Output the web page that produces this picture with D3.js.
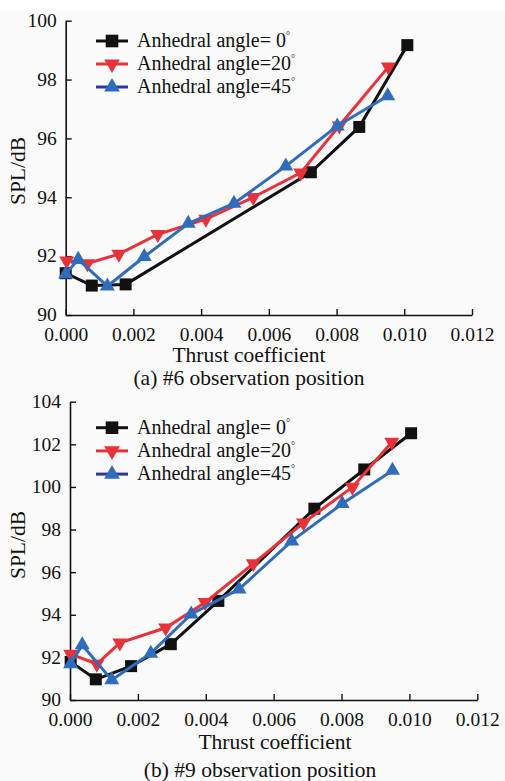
<!DOCTYPE html>
<html><head><meta charset="utf-8">
<script src="https://cdn.jsdelivr.net/npm/d3@7"></script>
<style>body{margin:0;background:#fafafa;}svg{display:block;}</style>
</head><body>
<svg id="c" width="505" height="781"></svg>
<script>
const seriesNames = ["Anhedral angle= 0", "Anhedral angle=20", "Anhedral angle=45"];
const xTicks = [0, 0.002, 0.004, 0.006, 0.008, 0.010, 0.012];
const yTicksA = [90, 92, 94, 96, 98, 100];
const yTicksB = [90, 92, 94, 96, 98, 100, 102, 104];
const titles = ["(a) #6 observation position", "(b) #9 observation position"];

// Panel (a) #6
const a0x = [0, 0.00077, 0.00177, 0.00724, 0.00867, 0.01009];
const a0y = [91.42, 91.0, 91.04, 94.85, 96.39, 99.17];
const a20x = [0.00003, 0.00064, 0.00157, 0.00272, 0.00414, 0.00554, 0.00694, 0.00808, 0.00953];
const a20y = [91.84, 91.75, 92.07, 92.74, 93.26, 94.0, 94.83, 96.43, 98.43];
const a45x = [0, 0.00037, 0.00123, 0.00232, 0.00362, 0.00497, 0.0065, 0.00802, 0.00951];
const a45y = [91.39, 91.89, 90.98, 91.98, 93.11, 93.79, 95.06, 96.42, 97.44];

// Panel (b) #9
const b0x = [0.00002, 0.00076, 0.0018, 0.00297, 0.00437, 0.0072, 0.00867, 0.01005];
const b0y = [91.79, 90.97, 91.59, 92.62, 94.65, 98.98, 100.82, 102.52];
const b20x = [0.00002, 0.00079, 0.00147, 0.00282, 0.00398, 0.0054, 0.00688, 0.00832, 0.00948];
const b20y = [92.15, 91.69, 92.68, 93.39, 94.58, 96.4, 98.32, 99.99, 102.1];
const b45x = [0.00002, 0.00036, 0.00123, 0.00238, 0.00357, 0.00498, 0.00653, 0.00802, 0.0095];
const b45y = [91.69, 92.58, 90.94, 92.19, 94.03, 95.2, 97.46, 99.21, 100.77];

const colors = ["#111111", "#e8323a", "#2f6dbb"];
const legendLineColors = ["#111111", "#e8323a", "#35329a"];
const font = "'Liberation Serif', 'Times New Roman', serif";

// marker shapes: square, down triangle, up triangle
function markerPath(i, s) {
  const p = d3.path();
  if (i === 0) { p.rect(-6 * s, -6 * s, 12 * s, 12 * s); return p.toString(); }
  const w = 7.5 * s, h = 13 * s;
  if (i === 1) { p.moveTo(-w, -h / 3); p.lineTo(w, -h / 3); p.lineTo(0, 2 * h / 3); }
  else { p.moveTo(-w, h / 3); p.lineTo(w, h / 3); p.lineTo(0, -2 * h / 3); }
  p.closePath();
  return p.toString();
}

const svg = d3.select("#c");
svg.append("rect").attr("width", 505).attr("height", 11).attr("fill", "#ffffff");

function zip(xs, ys) { return xs.map((x, i) => ({x, y: ys[i]})); }

function panel(cfg) {
  const g = svg.append("g");
  const x = d3.scaleLinear().domain([0, 0.012]).range([cfg.x0, cfg.x1]);
  const y = d3.scaleLinear().domain([90, cfg.ymax]).range([cfg.yb, cfg.yt]);

  const xa = g.append("g").attr("transform", `translate(0,${cfg.yb})`)
    .call(d3.axisBottom(x).tickValues(xTicks).tickFormat(d3.format(".3f")).tickSizeInner(-6).tickSizeOuter(0).tickPadding(cfg.xpad));
  const ya = g.append("g").attr("transform", `translate(${cfg.x0},0)`)
    .call(d3.axisLeft(y).tickValues(cfg.yTicks).tickFormat(d3.format("d")).tickSizeInner(-6).tickSizeOuter(0).tickPadding(9));
  [xa, ya].forEach(a => {
    a.select(".domain").attr("stroke", "#111").attr("stroke-width", 1.6);
    a.selectAll(".tick line").attr("stroke", "#111").attr("stroke-width", 1.4);
    a.selectAll("text").attr("font-family", font).attr("font-size", 19.5).attr("fill", "#111");
  });
  xa.selectAll("text").attr("dy", "0.71em");
  ya.selectAll("text").attr("dy", "0.3em");

  const line = d3.line().x(d => x(d.x)).y(d => y(d.y));
  cfg.series.forEach((s, i) => {
    g.append("path").datum(s).attr("d", line).attr("fill", "none")
      .attr("stroke", colors[i]).attr("stroke-width", 3).attr("stroke-linejoin", "miter");
    g.selectAll(null).data(s).enter().append("path")
      .attr("d", markerPath(i, 1))
      .attr("transform", d => `translate(${x(d.x)},${y(d.y)})`)
      .attr("fill", colors[i]);
  });

  // legend
  seriesNames.forEach((n, i) => {
    const ly = cfg.ly + i * cfg.lstep;
    g.append("line").attr("x1", cfg.lx).attr("x2", cfg.lx + 32).attr("y1", ly).attr("y2", ly)
      .attr("stroke", legendLineColors[i]).attr("stroke-width", 3);
    g.append("path").attr("d", markerPath(i, 1.05))
      .attr("transform", `translate(${cfg.lx + 16},${ly})`)
      .attr("fill", colors[i]);
    const t = g.append("text").attr("x", cfg.lx + 41).attr("y", ly + 6)
      .attr("font-family", font).attr("font-size", 20).attr("fill", "#111").text(n);
    t.append("tspan").attr("font-size", 10).attr("dy", -8).text("°");
  });

  g.append("text").attr("transform", `translate(${cfg.ylx},${cfg.yly}) rotate(-90)`)
    .attr("text-anchor", "middle").attr("dy", "0.35em").attr("font-family", font).attr("font-size", 21.5)
    .attr("fill", "#111").text("SPL/dB");
  g.append("text").attr("x", cfg.xlx).attr("y", cfg.xly).attr("text-anchor", "middle")
    .attr("font-family", font).attr("font-size", 21.5).attr("fill", "#111").text("Thrust coefficient");
  g.append("text").attr("x", cfg.tx).attr("y", cfg.ty).attr("text-anchor", "middle")
    .attr("font-family", font).attr("font-size", 21.5).attr("fill", "#111").text(cfg.title);
}

panel({x0: 65.7, x1: 472, yb: 315, yt: 20.7, ymax: 100, yTicks: yTicksA, xpad: 12,
  series: [zip(a0x, a0y), zip(a20x, a20y), zip(a45x, a45y)],
  lx: 96, ly: 41, lstep: 23, ylx: 17, yly: 171, xlx: 249, xly: 362, tx: 249, ty: 385, title: titles[0]});
panel({x0: 70, x1: 477.3, yb: 700, yt: 401.7, ymax: 104, yTicks: yTicksB, xpad: 12.5,
  series: [zip(b0x, b0y), zip(b20x, b20y), zip(b45x, b45y)],
  lx: 96, ly: 427.7, lstep: 23.2, ylx: 17, yly: 545, xlx: 275, xly: 749, tx: 260, ty: 777, title: titles[1]});
</script>
</body></html>
